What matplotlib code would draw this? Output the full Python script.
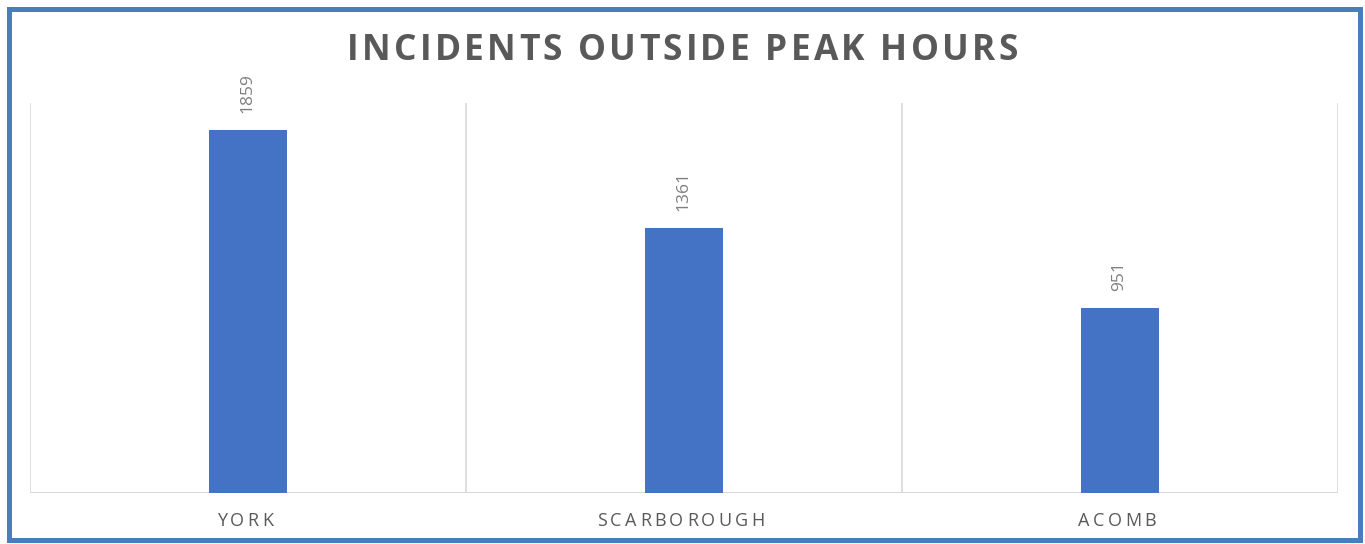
import matplotlib
matplotlib.use("Agg")
import matplotlib.pyplot as plt
import matplotlib.patches as patches
from matplotlib.font_manager import findfont, FontProperties
from matplotlib.ft2font import FT2Font
import numpy as np

categories = ["YORK", "SCARBOROUGH", "ACOMB"]
values = [1859, 1361, 951]
title = "INCIDENTS OUTSIDE PEAK HOURS"

W, H = 1365, 544
DPI = 100
fig = plt.figure(figsize=(W / DPI, H / DPI), dpi=DPI)
fig.patch.set_facecolor("white")

FAM = "Open Sans"


def tracked_text(xc, y_base, s, size, tracking, weight="normal", color="#595959"):
    """Draw text centred at pixel xc with baseline at pixel y_base (from top),
    adding extra letter spacing (tracking, in px)."""
    fp = FontProperties(family=FAM, weight=weight, size=size)
    font = FT2Font(findfont(fp))
    font.set_size(size, DPI)
    advs = []
    for ch in s:
        g = font.load_char(ord(ch))
        advs.append(g.linearHoriAdvance / 65536.0)
    total = sum(advs) + tracking * (len(s) - 1)
    x = xc - total / 2.0
    for ch, a in zip(s, advs):
        if ch != " ":
            fig.text(x / W, 1 - y_base / H, ch, fontproperties=fp, color=color,
                     ha="left", va="baseline")
        x += a + tracking


# plot area
left, right, top, bottom = 30, 1338, 103, 493
ax = fig.add_axes([left / W, 1 - bottom / H, (right - left) / W, (bottom - top) / H])
x = np.arange(len(categories))
ax.bar(x, values, width=0.18, color="#4472C4", zorder=3)
ax.set_xlim(-0.5, len(categories) - 0.5)
ax.set_ylim(0, 2000)
bounds = np.arange(len(categories) + 1) - 0.5
ax.vlines(bounds, 0, 2000, colors="#D9D9D9", linewidth=1.2, zorder=1)
ax.axhline(0, color="#D9D9D9", linewidth=1.5, zorder=2)
for s in ax.spines.values():
    s.set_visible(False)
ax.set_yticks([])
ax.set_xticks([])

for xi, v in zip(x, values):
    ax.annotate(str(v), (xi, v), xytext=(-1, 17), textcoords="offset pixels",
                rotation=90, ha="center", va="bottom", family=FAM,
                fontsize=12.5, color="#7F7F7F")

# category labels with letter spacing
for xi, c in zip(x, categories):
    xc = ax.transData.transform((xi, 0))[0]
    tracked_text(xc - 3, 526, c, 13, 3.4, color="#595959")

# title
tracked_text(W / 2, 59.5, title, 25.5, 3.2, weight="bold", color="#595959")

# border
bw = 5
rect = patches.Rectangle((8.5 / W, 1 - 539.5 / H), (1359.5 - 8.5) / W, (539.5 - 8.5) / H,
                         transform=fig.transFigure, fill=False, edgecolor="#4A7EBB",
                         linewidth=bw * 72 / 100)
fig.patches.append(rect)

fig.savefig("out.png", dpi=DPI)
